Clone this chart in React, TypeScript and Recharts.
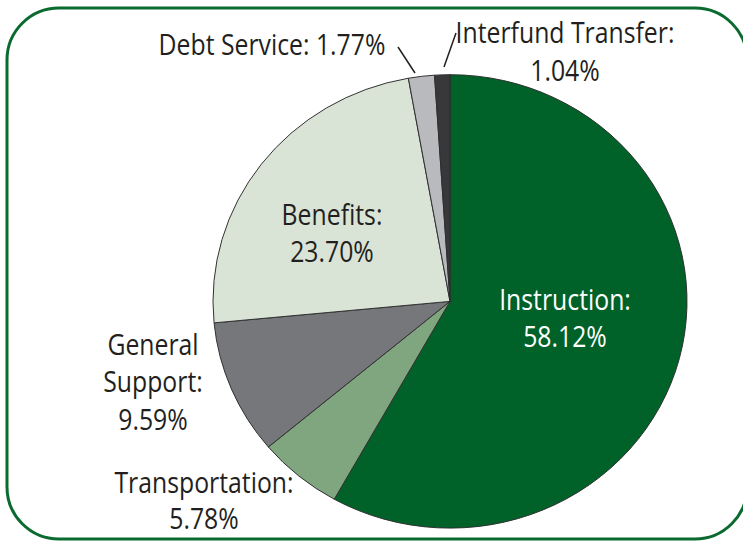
import React from "react";
import { PieChart, Pie, Cell } from "recharts";

const categories = ["Instruction", "Transportation", "General Support", "Benefits", "Debt Service", "Interfund Transfer"];
const shares = [58.12, 5.78, 9.59, 23.7, 1.77, 1.04];
const colors = ["#006228", "#7fa67e", "#76777b", "#d9e4d6", "#b9babe", "#38383a"];

const data = categories.map((name, i) => ({ name, value: shares[i] }));

type LabelLayout = {
  mode: "inline" | "two" | "three";
  x: number;
  baselines: number[];
  fill: string;
  leader?: [number, number, number, number];
};

const labelLayouts: LabelLayout[] = [
  { mode: "two", x: 565, baselines: [310, 347], fill: "#ffffff" },
  { mode: "two", x: 204, baselines: [493, 529], fill: "#231f20" },
  { mode: "three", x: 153, baselines: [355, 392, 430], fill: "#231f20" },
  { mode: "two", x: 332, baselines: [225, 262], fill: "#231f20" },
  { mode: "inline", x: 272, baselines: [55], fill: "#231f20", leader: [398, 47, 415, 73] },
  { mode: "two", x: 565, baselines: [43, 81], fill: "#231f20", leader: [456, 33, 444, 67] },
];

const FONT = '"Open Sans", "Liberation Sans", Arial, sans-serif';
const FONT_SIZE = 29;
const SQUEEZE = 0.855;

const CX = 450;
const CY = 301.4;
const RX = 237;
const RY = 226.7;

function renderLabel(props: any) {
  const idx = props.index;
  const layout = labelLayouts[idx];
  const d = data[idx];
  const pct = `${d.value.toFixed(2)}%`;
  let lines: string[];
  if (layout.mode === "inline") lines = [`${d.name}: ${pct}`];
  else if (layout.mode === "two") lines = [`${d.name}:`, pct];
  else {
    const parts = d.name.split(" ");
    lines = [parts[0], `${parts.slice(1).join(" ")}:`, pct];
  }
  return (
    <g key={`lbl-${idx}`}>
      {layout.leader && (
        <line
          x1={layout.leader[0]}
          y1={layout.leader[1]}
          x2={layout.leader[2]}
          y2={layout.leader[3]}
          stroke="#231f20"
          strokeWidth={1.5}
        />
      )}
      {lines.map((t, j) => (
        <text
          key={j}
          x={0}
          y={0}
          transform={`translate(${layout.x},${layout.baselines[j]}) scale(${SQUEEZE},1)`}
          textAnchor="middle"
          fill={layout.fill}
          fontFamily={FONT}
          fontSize={FONT_SIZE}
        >
          {t}
        </text>
      ))}
    </g>
  );
}

export default function App() {
  return (
    <div style={{ position: "absolute", left: 0, top: 0, width: 743, height: 541, background: "#ffffff" }}>
      <style>{`
        .recharts-pie-sector { transform: scale(1, ${RY / RX}); transform-origin: ${CX}px ${CY}px; }
      `}</style>
      <svg width={743} height={541} style={{ position: "absolute", left: 0, top: 0 }}>
        <rect x={7} y={8} width={740} height={531} rx={52} ry={52} fill="none" stroke="#0b6a2f" strokeWidth={3} />
      </svg>
      <div style={{ position: "absolute", left: 0, top: 0 }}>
        <PieChart width={743} height={541} margin={{ top: 0, right: 0, bottom: 0, left: 0 }}>
          <Pie
            data={data}
            dataKey="value"
            nameKey="name"
            cx={CX}
            cy={CY}
            outerRadius={RX}
            innerRadius={0}
            startAngle={90}
            endAngle={-270}
            stroke="#2e2e2e"
            strokeWidth={1}
            label={renderLabel}
            labelLine={false}
            isAnimationActive={false}
          >
            {data.map((d, i) => (
              <Cell key={d.name} fill={colors[i]} />
            ))}
          </Pie>
        </PieChart>
      </div>
    </div>
  );
}
